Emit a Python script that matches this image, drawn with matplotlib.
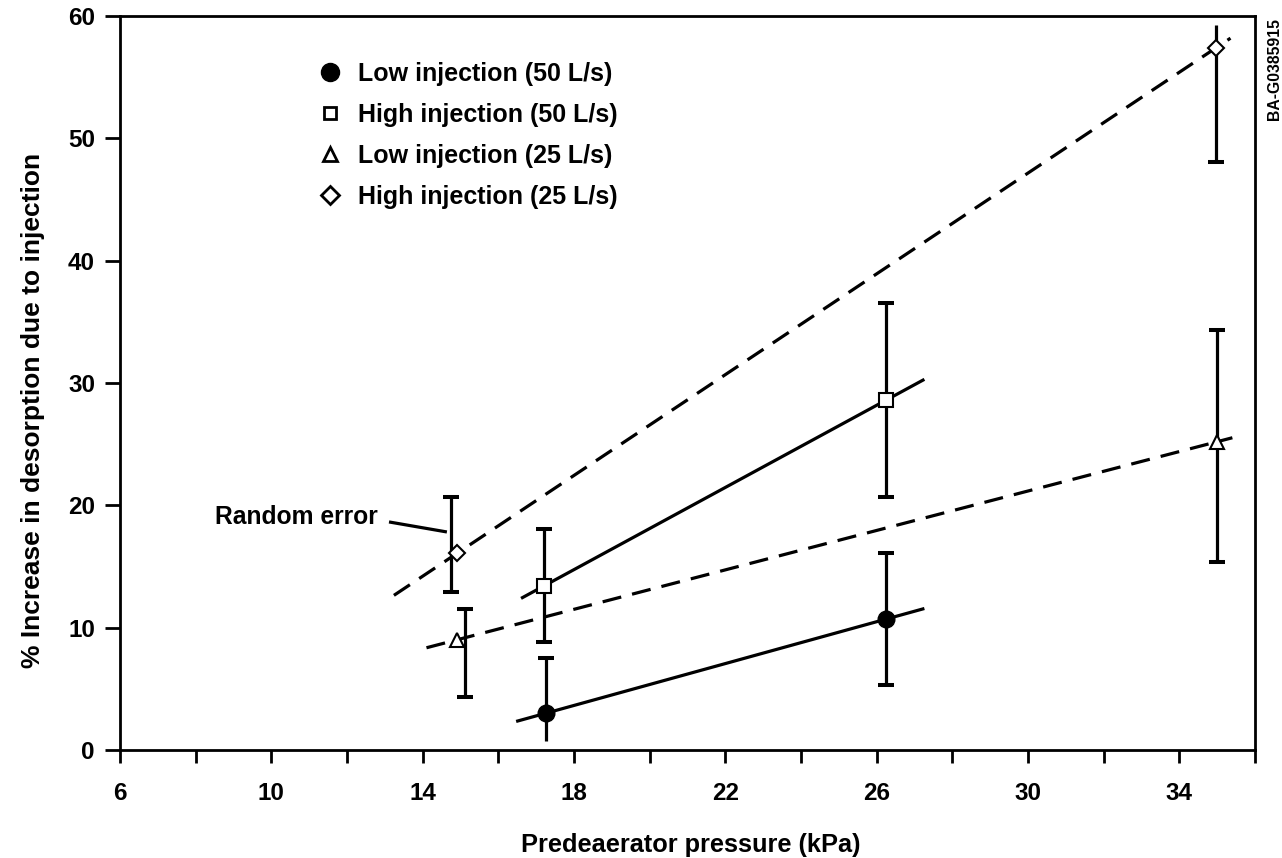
import numpy as np
import matplotlib
matplotlib.use("Agg")
import matplotlib.pyplot as plt
from matplotlib.lines import Line2D

plt.rcParams['font.family'] = ['Liberation Sans', 'DejaVu Sans']
plt.rcParams['font.weight'] = 'bold'

# Predeaerator pressure (kPa) and % increase in desorption for each series
low50_x = [17.25, 26.25]
low50_y = [3.0, 10.7]
low50_lo = [0.7, 5.3]
low50_hi = [7.5, 16.1]

high50_x = [17.2, 26.25]
high50_y = [13.4, 28.6]
high50_lo = [8.8, 20.7]
high50_hi = [18.1, 36.5]

low25_x = [14.9, 35.0]
low25_y = [9.0, 25.2]
low25_bar_x = [15.13, 35.0]
low25_lo = [4.3, 15.4]
low25_hi = [11.5, 34.3]

high25_x = [14.92, 34.97]
high25_y = [16.1, 57.4]
high25_bar_x = [14.74, 34.97]
high25_lo = [12.9, 48.1]
high25_hi = [20.7, 59.3]

labels = ["Low injection (50 L/s)", "High injection (50 L/s)",
          "Low injection (25 L/s)", "High injection (25 L/s)"]

x_ticks = [6, 10, 14, 18, 22, 26, 30, 34]
y_ticks = [0, 10, 20, 30, 40, 50, 60]

fig = plt.figure(figsize=(12.82, 8.58), dpi=100)
ax = fig.add_axes([0.0936, 0.1259, 0.8854, 0.8555])
ax.set_xlim(6, 36)
ax.set_ylim(0, 60)

LW = 2.3
DASH = (6, 3.5)


def fit_line(xs, ys, x0, x1, dashed):
    k, b = np.polyfit(xs, ys, 1)
    xx = np.array([x0, x1])
    line, = ax.plot(xx, k * xx + b, color='black', lw=LW, solid_capstyle='butt',
                    zorder=2)
    if dashed:
        line.set_dashes(DASH)


def bars(xs, lo, hi, lo_caps=(True, True), hi_caps=(True, True)):
    ax.vlines(xs, lo, hi, color='black', lw=LW, zorder=3)
    for x, l, h, cl, ch in zip(xs, lo, hi, lo_caps, hi_caps):
        if cl:
            ax.plot([x], [l], marker='_', ms=12, mew=LW + 0.6, color='black', zorder=3)
        if ch:
            ax.plot([x], [h], marker='_', ms=12, mew=LW + 0.6, color='black', zorder=3)


# regression lines
fit_line(low50_x, low50_y, 16.47, 27.26, False)
fit_line(high50_x, high50_y, 16.6, 27.26, False)
fit_line(low25_x, low25_y, 14.1, 35.4, True)
fit_line(high25_x, high25_y, 13.24, 35.35, True)

# random error bars
bars(low50_x, low50_lo, low50_hi, lo_caps=(False, True))
bars(high50_x, high50_lo, high50_hi)
bars(low25_bar_x, low25_lo, low25_hi)
bars(high25_bar_x, high25_lo, high25_hi, hi_caps=(True, False))

# data points
ax.plot(low50_x, low50_y, 'o', ms=12, color='black', zorder=4)
ax.plot(high50_x, high50_y, 's', ms=10, mfc='white', mec='black', mew=1.5, zorder=4)
ax.plot(low25_x, low25_y, '^', ms=10, mfc='white', mec='black', mew=1.5, zorder=4)
ax.plot(high25_x, high25_y, 'D', ms=8, mfc='white', mec='black', mew=1.5, zorder=4)

# legend with markers only
handles = [
    Line2D([], [], ls='none', marker='o', ms=13, color='black'),
    Line2D([], [], ls='none', marker='s', ms=9, mfc='white', mec='black', mew=2),
    Line2D([], [], ls='none', marker='^', ms=10, mfc='white', mec='black', mew=2),
    Line2D([], [], ls='none', marker='D', ms=9, mfc='white', mec='black', mew=2),
]
ax.legend(handles, labels, loc='upper left', bbox_to_anchor=(0.165, 0.951),
          frameon=False, fontsize=18, handlelength=1.0, handletextpad=0.62,
          labelspacing=0.68, borderaxespad=0)

# annotation
ax.text(12.82, 19.05, "Random error", ha='right', va='center', fontsize=17.7,
        fontweight='bold')
ax.plot([13.11, 14.64], [18.64, 17.82], color='black', lw=2.3,
        solid_capstyle='butt')

# axes styling
ax.set_xticks(x_ticks)
ax.set_xticks(np.arange(6, 37, 2), minor=True)
ax.set_yticks(y_ticks)
for s in ax.spines.values():
    s.set_linewidth(2.0)
ax.tick_params(axis='both', which='both', direction='out', width=2.0,
               labelsize=17.5)
ax.tick_params(axis='x', which='both', length=9.4, pad=14)
ax.tick_params(axis='y', which='both', length=10.8, pad=7.2)
for lab in ax.get_xticklabels() + ax.get_yticklabels():
    lab.set_fontweight('bold')

ax.set_xlabel("Predeaerator pressure (kPa)", fontsize=18.3, fontweight='bold')
ax.xaxis.set_label_coords(0.503, -0.113)
ax.set_ylabel("% Increase in desorption due to injection", fontsize=19,
              fontweight='bold')
ax.yaxis.set_label_coords(-0.066, 0.462)

fig.text(0.9938, 0.979, "BA-G0385915", rotation=90, ha='center', va='top',
         fontsize=11.3, fontweight='bold')

fig.savefig("out.png", dpi=100)
